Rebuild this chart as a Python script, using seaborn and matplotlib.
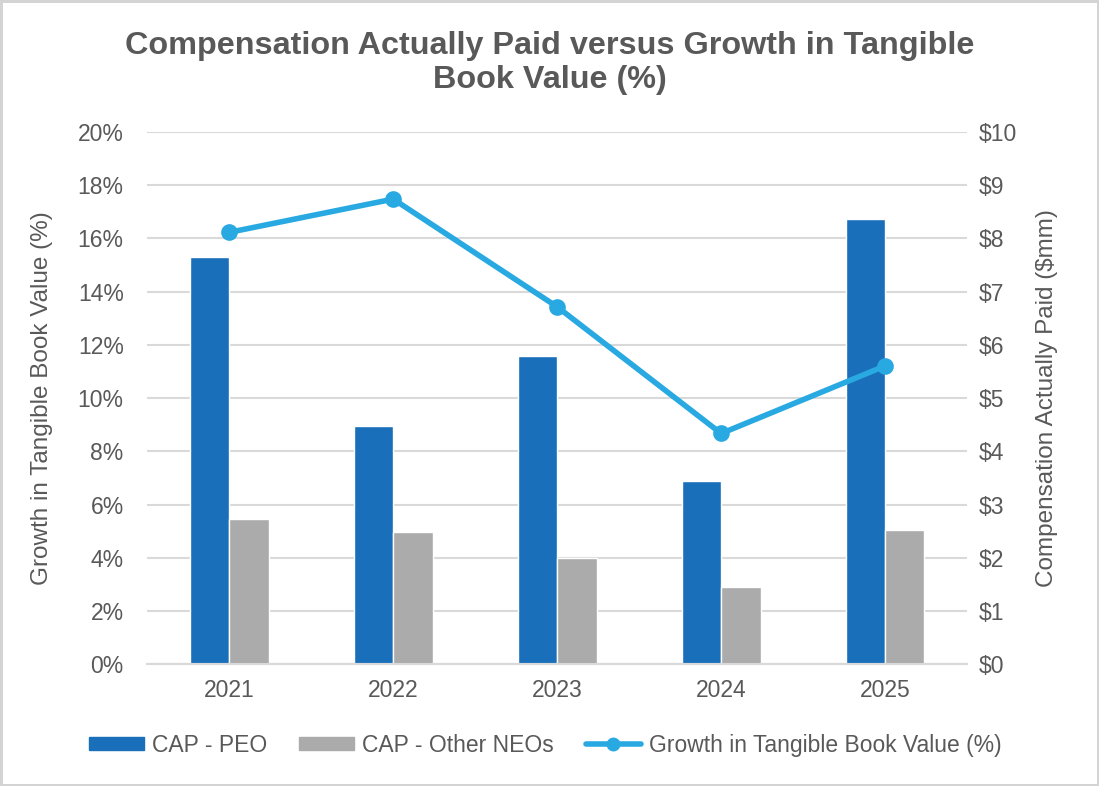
import matplotlib
matplotlib.use("Agg")
import matplotlib.pyplot as plt
from matplotlib.patches import Patch
from matplotlib.lines import Line2D
import seaborn as sns
import pandas as pd

years = ['2021', '2022', '2023', '2024', '2025']
cap_peo = [7.66, 4.48, 5.80, 3.44, 8.36]          # $mm, right axis
cap_other = [2.72, 2.48, 1.99, 1.45, 2.52]        # $mm, right axis
tbv_growth = [16.23, 17.48, 13.43, 8.67, 11.21]   # %, left axis

peo_color = '#1A6FBA'
other_color = '#ABABAB'
line_color = '#29A9E1'
text_color = '#595959'
grid_color = '#D9D9D9'

sns.set_theme(style='white')
plt.rcParams['font.family'] = ['Liberation Sans', 'DejaVu Sans']

df = pd.DataFrame({
    'Year': years * 2,
    'Value': cap_peo + cap_other,
    'Series': ['CAP - PEO'] * 5 + ['CAP - Other NEOs'] * 5,
})

fig = plt.figure(figsize=(10.99, 7.86), dpi=100, edgecolor='#D4D4D4', linewidth=2.5)
ax = fig.add_axes([0.134, 0.155, 0.746, 0.677])

# bars on the $mm axis (drawn on the right)
sns.barplot(data=df, x='Year', y='Value', hue='Series', order=years,
            palette=[peo_color, other_color], width=0.48, saturation=1,
            ax=ax, legend=False)
ax.set_ylim(0, 10)
ax.set_xlim(-0.5, 4.5)
ax.set_yticks(range(0, 11))
ax.set_yticklabels([f'${v}' for v in range(0, 11)])
ax.set_xlabel('')
ax.set_axisbelow(True)
ax.grid(axis='y', color=grid_color, linewidth=1.5)

# line on the % axis (drawn on the left)
ax2 = ax.twinx()
sns.pointplot(x=years, y=tbv_growth, order=years, color=line_color,
              linewidth=4, markersize=9, ax=ax2)
ax2.set_ylim(0, 20)
ax2.set_yticks(range(0, 21, 2))
ax2.set_yticklabels([f'{v}%' for v in range(0, 21, 2)])
ax2.set_xlim(-0.5, 4.5)

# swap sides: $ on the right, % on the left (after twinx, which resets them)
ax.yaxis.tick_right()
ax.yaxis.set_label_position('right')
ax2.yaxis.tick_left()
ax2.yaxis.set_label_position('left')
ax.set_ylabel('Compensation Actually Paid ($mm)', fontsize=17.5, color=text_color, labelpad=14)
ax2.set_ylabel('Growth in Tangible Book Value (%)', fontsize=17.5, color=text_color, labelpad=18)

for a in (ax, ax2):
    for s in ['top', 'left', 'right']:
        a.spines[s].set_visible(False)
    a.spines['bottom'].set_color(grid_color)
    a.spines['bottom'].set_linewidth(1.5)
    a.tick_params(axis='y', length=0, labelsize=16.5, labelcolor=text_color)
ax2.tick_params(axis='y', pad=17)
ax.tick_params(axis='y', pad=8)

ax.tick_params(axis='x', which='major', length=0, labelsize=16.5, labelcolor=text_color, pad=11)
ax.set_xticks([i - 0.5 for i in range(6)], minor=True)
ax.tick_params(axis='x', which='minor', length=7, color=grid_color, width=1.5, direction='out')
ax2.tick_params(axis='x', bottom=False, labelbottom=False)

fig.suptitle('Compensation Actually Paid versus Growth in Tangible\nBook Value (%)',
             fontsize=23.3, fontweight='bold', color=text_color, y=0.96, linespacing=1.15)

handles = [Patch(color=peo_color), Patch(color=other_color),
           Line2D([], [], color=line_color, linewidth=4, marker='o', markersize=9)]
labels = ['CAP - PEO', 'CAP - Other NEOs', 'Growth in Tangible Book Value (%)']
fig.legend(handles, labels, loc='center', bbox_to_anchor=(0.496, 0.052), ncol=3,
           frameon=False, fontsize=16.5, labelcolor=text_color, handlelength=2.4,
           handleheight=0.55, columnspacing=1.4, handletextpad=0.35)

fig.savefig('out.png', dpi=100, edgecolor=fig.get_edgecolor())
